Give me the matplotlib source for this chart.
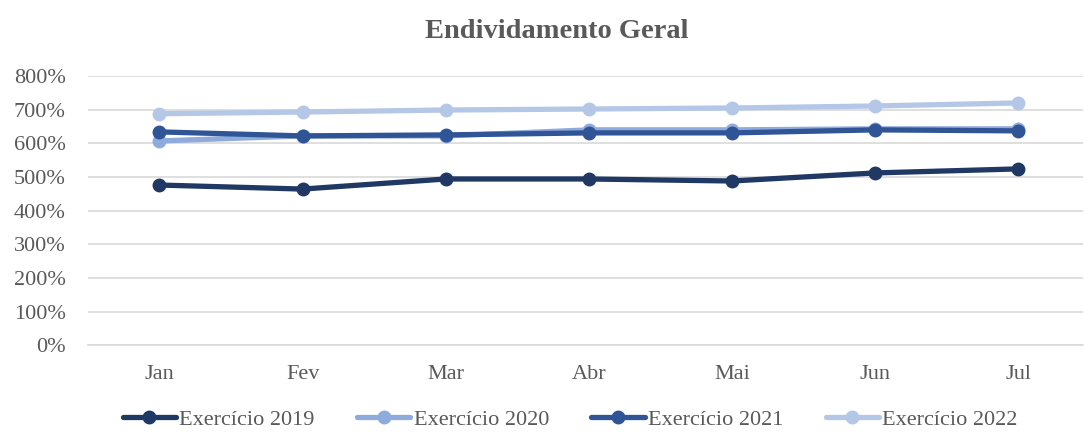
import matplotlib.pyplot as plt
from matplotlib.ticker import FuncFormatter

# Data
meses = ['Jan', 'Fev', 'Mar', 'Abr', 'Mai', 'Jun', 'Jul']
ex_2019 = [476, 464, 494, 494, 488, 512, 524]
ex_2020 = [607, 622, 622, 640, 640, 643, 643]
ex_2021 = [634, 622, 625, 631, 631, 640, 637]
ex_2022 = [688, 693, 699, 702, 705, 711, 720]

series = [
    ('Exercício 2019', ex_2019, '#203864'),
    ('Exercício 2020', ex_2020, '#8faadc'),
    ('Exercício 2021', ex_2021, '#2f5597'),
    ('Exercício 2022', ex_2022, '#b4c7e7'),
]

plt.rcParams['font.family'] = ['Liberation Serif', 'DejaVu Serif']
text_color = '#595959'

fig = plt.figure(figsize=(10.84, 4.32), dpi=100)
ax = fig.add_axes([0.081, 0.201, 0.918, 0.623])

x = range(len(meses))
for label, vals, color in series:
    ax.plot(x, vals, color=color, linewidth=3.8, marker='o', markersize=9,
            label=label, solid_capstyle='round')

ax.set_ylim(0, 800)
ax.set_yticks(range(0, 801, 100))
ax.yaxis.set_major_formatter(FuncFormatter(lambda v, p: f'{int(v)}%'))
ax.set_xlim(-0.5, 6.45)
ax.set_xticks(list(x))
ax.set_xticklabels(meses)
ax.grid(axis='y', color='#d9d9d9', linewidth=1.2)
ax.set_axisbelow(True)
for s in ['top', 'right', 'left']:
    ax.spines[s].set_visible(False)
ax.spines['bottom'].set_color('#d9d9d9')
ax.spines['bottom'].set_linewidth(1.2)
ax.tick_params(axis='both', length=0, labelsize=16, colors=text_color)
ax.tick_params(axis='x', pad=14)
ax.tick_params(axis='y', pad=16)

fig.suptitle('Endividamento Geral', x=0.514, y=0.955, fontsize=20.5,
             fontweight='bold', color=text_color)

fig.legend(loc='lower center', bbox_to_anchor=(0.526, -0.042), ncol=4,
           frameon=False, fontsize=16, handlelength=2.4, handletextpad=0.15,
           columnspacing=1.9, labelcolor=text_color)

fig.savefig('out.png', dpi=100)
